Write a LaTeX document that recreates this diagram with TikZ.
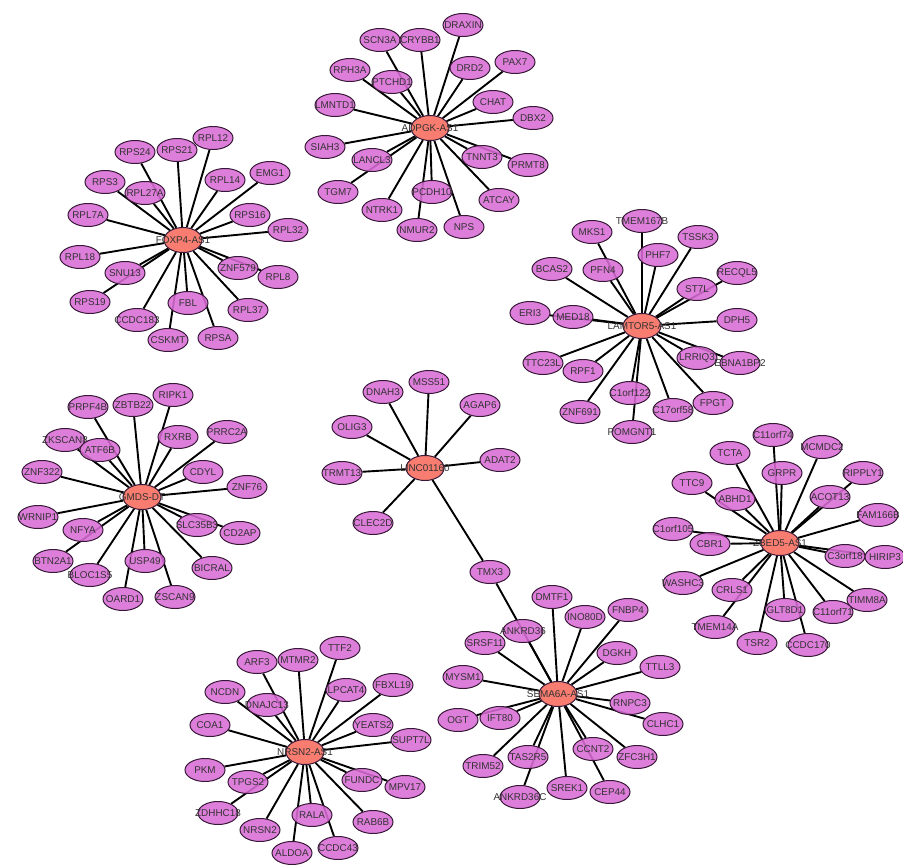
\documentclass[tikz,border=0pt]{standalone}
\usepackage{fontspec}
\setmainfont{Liberation Sans}
\usetikzlibrary{shapes.geometric}
\pgfdeclarelayer{background}
\pgfsetlayers{background,main}
\definecolor{hubred}{RGB}{248,124,112}
\definecolor{orchid}{RGB}{218,108,214}
\definecolor{rim}{RGB}{55,25,55}

\begin{document}
\begin{tikzpicture}[
  x=1pt, y=-1pt,
  font=\fontsize{9.9}{11}\selectfont,
  gene/.style={ellipse, draw=rim, line width=1pt, fill=orchid, fill opacity=0.88, text opacity=1, text=black!80, minimum width=40pt, minimum height=23pt, inner sep=0pt,
    execute at begin node={\hbox to 0pt\bgroup\hss}, execute at end node={\hss\egroup}},
  hub/.style={gene, fill=hubred, fill opacity=1, minimum width=38pt, minimum height=25pt},
  link/.style={line width=1.9pt, black}
]
\useasboundingbox (0,0) rectangle (903,868);

\node[hub] (adpgk) at (430,128) {ADPGK-AS1};
\node[gene] (scn3a) at (380,40) {SCN3A};
\node[gene] (crybb1) at (420,40) {CRYBB1};
\node[gene] (draxin) at (463,25) {DRAXIN};
\node[gene] (rph3a) at (350,70) {RPH3A};
\node[gene] (ptchd1) at (392,82) {PTCHD1};
\node[gene] (drd2) at (470,68) {DRD2};
\node[gene] (pax7) at (515,62) {PAX7};
\node[gene] (lmntd1) at (335,105) {LMNTD1};
\node[gene] (chat) at (493,102) {CHAT};
\node[gene] (dbx2) at (533,118) {DBX2};
\node[gene] (siah3) at (325,147) {SIAH3};
\node[gene] (lancl3) at (372,160) {LANCL3};
\node[gene] (tnnt3) at (482,157) {TNNT3};
\node[gene] (prmt8) at (528,165) {PRMT8};
\node[gene] (tgm7) at (338,192) {TGM7};
\node[gene] (pcdh10) at (432,192) {PCDH10};
\node[gene] (atcay) at (499,200) {ATCAY};
\node[gene] (ntrk1) at (382,210) {NTRK1};
\node[gene] (nmur2) at (417,230) {NMUR2};
\node[gene] (nps) at (464,227) {NPS};

\node[hub] (foxp4) at (183,240) {FOXP4-AS1};
\node[gene] (rps24) at (135,152) {RPS24};
\node[gene] (rps21) at (177,150) {RPS21};
\node[gene] (rpl12) at (213,138) {RPL12};
\node[gene] (rps3) at (105,182) {RPS3};
\node[gene] (rpl27a) at (145,193) {RPL27A};
\node[gene] (rpl14) at (225,180) {RPL14};
\node[gene] (emg1) at (270,173) {EMG1};
\node[gene] (rpl7a) at (88,215) {RPL7A};
\node[gene] (rps16) at (250,215) {RPS16};
\node[gene] (rpl32) at (288,230) {RPL32};
\node[gene] (rpl18) at (80,257) {RPL18};
\node[gene] (snu13) at (125,273) {SNU13};
\node[gene] (znf579) at (238,268) {ZNF579};
\node[gene] (rpl8) at (278,277) {RPL8};
\node[gene] (rps19) at (90,302) {RPS19};
\node[gene] (fbl) at (188,303) {FBL};
\node[gene] (rpl37) at (248,310) {RPL37};
\node[gene] (ccdc183) at (137,320) {CCDC183};
\node[gene] (cskmt) at (168,340) {CSKMT};
\node[gene] (rpsa) at (218,338) {RPSA};

\node[hub] (lamtor5) at (642,326) {LAMTOR5-AS1};
\node[gene] (tmem167b) at (642,221) {TMEM167B};
\node[gene] (mks1) at (592,232) {MKS1};
\node[gene] (tssk3) at (698,237) {TSSK3};
\node[gene] (phf7) at (658,255) {PHF7};
\node[gene] (bcas2) at (552,269) {BCAS2};
\node[gene] (pfn4) at (603,270) {PFN4};
\node[gene] (recql5) at (737,273) {RECQL5};
\node[gene] (st7l) at (697,289) {ST7L};
\node[gene] (eri3) at (530,313) {ERI3};
\node[gene] (med18) at (573,317) {MED18};
\node[gene] (dph5) at (737,320) {DPH5};
\node[gene] (ttc23l) at (543,363) {TTC23L};
\node[gene] (rpf1) at (583,371) {RPF1};
\node[gene] (lrriq3) at (697,358) {LRRIQ3};
\node[gene] (ebna1bp2) at (740,363) {EBNA1BP2};
\node[gene] (c1orf122) at (630,393) {C1orf122};
\node[gene] (c17orf58) at (673,410) {C17orf58};
\node[gene] (fpgt) at (713,403) {FPGT};
\node[gene] (znf691) at (580,412) {ZNF691};
\node[gene] (pomgnt1) at (632,432) {POMGNT1};

\node[hub] (gmds) at (142,497) {GMDS-DT};
\node[gene] (prpf4b) at (88,407) {PRPF4B};
\node[gene] (zbtb22) at (133,405) {ZBTB22};
\node[gene] (ripk1) at (173,395) {RIPK1};
\node[gene] (zkscan8) at (65,440) {ZKSCAN8};
\node[gene] (atf6b) at (100,450) {ATF6B};
\node[gene] (rxrb) at (178,437) {RXRB};
\node[gene] (prrc2a) at (227,432) {PRRC2A};
\node[gene] (znf322) at (42,472) {ZNF322};
\node[gene] (cdyl) at (203,472) {CDYL};
\node[gene] (znf76) at (247,487) {ZNF76};
\node[gene] (wrnip1) at (38,517) {WRNIP1};
\node[gene] (nfya) at (83,530) {NFYA};
\node[gene] (slc35b3) at (197,525) {SLC35B3};
\node[gene] (cd2ap) at (240,533) {CD2AP};
\node[gene] (btn2a1) at (53,561) {BTN2A1};
\node[gene] (usp49) at (145,561) {USP49};
\node[gene] (bicral) at (212,568) {BICRAL};
\node[gene] (bloc1s5) at (90,575) {BLOC1S5};
\node[gene] (oard1) at (123,599) {OARD1};
\node[gene] (zscan9) at (175,597) {ZSCAN9};

\node[hub] (linc) at (425,468) {LINC01160};
\node[gene] (dnah3) at (383,392) {DNAH3};
\node[gene] (mss51) at (429,382) {MSS51};
\node[gene] (agap6) at (480,405) {AGAP6};
\node[gene] (olig3) at (352,427) {OLIG3};
\node[gene] (trmt13) at (342,473) {TRMT13};
\node[gene] (adat2) at (500,460) {ADAT2};
\node[gene] (clec2d) at (373,523) {CLEC2D};
\node[gene] (tmx3) at (490,572) {TMX3};

\node[hub] (sema6a) at (558,694) {SEMA6A-AS1};
\node[gene] (dmtf1) at (552,597) {DMTF1};
\node[gene] (ino80d) at (585,617) {INO80D};
\node[gene] (fnbp4) at (628,610) {FNBP4};
\node[gene] (ankrd36) at (523,631) {ANKRD36};
\node[gene] (srsf11) at (485,643) {SRSF11};
\node[gene] (dgkh) at (617,653) {DGKH};
\node[gene] (ttll3) at (660,667) {TTLL3};
\node[gene] (mysm1) at (463,677) {MYSM1};
\node[gene] (rnpc3) at (630,703) {RNPC3};
\node[gene] (ogt) at (458,720) {OGT};
\node[gene] (ift80) at (500,718) {IFT80};
\node[gene] (clhc1) at (663,724) {CLHC1};
\node[gene] (ccnt2) at (593,749) {CCNT2};
\node[gene] (zfc3h1) at (637,757) {ZFC3H1};
\node[gene] (tas2r5) at (528,757) {TAS2R5};
\node[gene] (trim52) at (483,766) {TRIM52};
\node[gene] (srek1) at (567,788) {SREK1};
\node[gene] (cep44) at (610,792) {CEP44};
\node[gene] (ankrd36c) at (520,797) {ANKRD36C};

\node[hub] (nrsn2as) at (305,752) {NRSN2-AS1};
\node[gene] (ttf2) at (340,648) {TTF2};
\node[gene] (arf3) at (257,662) {ARF3};
\node[gene] (mtmr2) at (298,660) {MTMR2};
\node[gene] (fbxl19) at (393,685) {FBXL19};
\node[gene] (ncdn) at (225,692) {NCDN};
\node[gene] (lpcat4) at (346,690) {LPCAT4};
\node[gene] (dnajc13) at (267,705) {DNAJC13};
\node[gene] (coa1) at (210,725) {COA1};
\node[gene] (yeats2) at (373,725) {YEATS2};
\node[gene] (supt7l) at (411,740) {SUPT7L};
\node[gene] (pkm) at (205,770) {PKM};
\node[gene] (tpgs2) at (248,782) {TPGS2};
\node[gene] (fundc) at (362,780) {FUNDC};
\node[gene] (mpv17) at (405,787) {MPV17};
\node[gene] (zdhhc18) at (218,813) {ZDHHC18};
\node[gene] (rala) at (312,815) {RALA};
\node[gene] (rab6b) at (373,822) {RAB6B};
\node[gene] (nrsn2) at (260,830) {NRSN2};
\node[gene] (aldoa) at (292,853) {ALDOA};
\node[gene] (ccdc43) at (338,848) {CCDC43};

\node[hub] (zbed5) at (780,543) {ZBED5-AS1};
\node[gene] (c11orf74) at (773,435) {C11orf74};
\node[gene] (tcta) at (730,453) {TCTA};
\node[gene] (mcmdc2) at (822,447) {MCMDC2};
\node[gene] (grpr) at (782,473) {GRPR};
\node[gene] (ripply1) at (863,473) {RIPPLY1};
\node[gene] (ttc9) at (692,483) {TTC9};
\node[gene] (abhd1) at (735,499) {ABHD1};
\node[gene] (acot13) at (830,497) {ACOT13};
\node[gene] (fam166b) at (878,515) {FAM166B};
\node[gene] (c1orf105) at (673,529) {C1orf105};
\node[gene] (cbr1) at (710,544) {CBR1};
\node[gene] (c3orf18) at (845,556) {C3orf18};
\node[gene] (hirip3) at (885,557) {HIRIP3};
\node[gene] (washc3) at (683,583) {WASHC3};
\node[gene] (crls1) at (732,590) {CRLS1};
\node[gene] (timm8a) at (867,600) {TIMM8A};
\node[gene] (glt8d1) at (785,610) {GLT8D1};
\node[gene] (c11orf71) at (833,612) {C11orf71};
\node[gene] (tmem14a) at (715,627) {TMEM14A};
\node[gene] (tsr2) at (757,643) {TSR2};
\node[gene] (ccdc170) at (808,645) {CCDC170};

\begin{pgfonlayer}{background}
\foreach \g in {scn3a,crybb1,draxin,rph3a,ptchd1,drd2,pax7,lmntd1,chat,dbx2,siah3,lancl3,tnnt3,prmt8,tgm7,pcdh10,atcay,ntrk1,nmur2,nps}
  \draw[link] (adpgk) -- (\g);
\foreach \g in {rps24,rps21,rpl12,rps3,rpl27a,rpl14,emg1,rpl7a,rps16,rpl32,rpl18,snu13,znf579,rpl8,rps19,fbl,rpl37,ccdc183,cskmt,rpsa}
  \draw[link] (foxp4) -- (\g);
\foreach \g in {tmem167b,mks1,tssk3,phf7,bcas2,pfn4,recql5,st7l,eri3,med18,dph5,ttc23l,rpf1,lrriq3,ebna1bp2,c1orf122,c17orf58,fpgt,znf691,pomgnt1}
  \draw[link] (lamtor5) -- (\g);
\foreach \g in {prpf4b,zbtb22,ripk1,zkscan8,atf6b,rxrb,prrc2a,znf322,cdyl,znf76,wrnip1,nfya,slc35b3,cd2ap,btn2a1,usp49,bicral,bloc1s5,oard1,zscan9}
  \draw[link] (gmds) -- (\g);
\foreach \g in {dnah3,mss51,agap6,olig3,trmt13,adat2,clec2d,tmx3}
  \draw[link] (linc) -- (\g);
\foreach \g in {tmx3,dmtf1,ino80d,fnbp4,ankrd36,srsf11,dgkh,ttll3,mysm1,rnpc3,ogt,ift80,clhc1,ccnt2,zfc3h1,tas2r5,trim52,srek1,cep44,ankrd36c}
  \draw[link] (sema6a) -- (\g);
\foreach \g in {ttf2,arf3,mtmr2,fbxl19,ncdn,lpcat4,dnajc13,coa1,yeats2,supt7l,pkm,tpgs2,fundc,mpv17,zdhhc18,rala,rab6b,nrsn2,aldoa,ccdc43}
  \draw[link] (nrsn2as) -- (\g);
\foreach \g in {c11orf74,tcta,mcmdc2,grpr,ripply1,ttc9,abhd1,acot13,fam166b,c1orf105,cbr1,c3orf18,hirip3,washc3,crls1,timm8a,glt8d1,c11orf71,tmem14a,tsr2,ccdc170}
  \draw[link] (zbed5) -- (\g);
\end{pgfonlayer}
\end{tikzpicture}
\end{document}
